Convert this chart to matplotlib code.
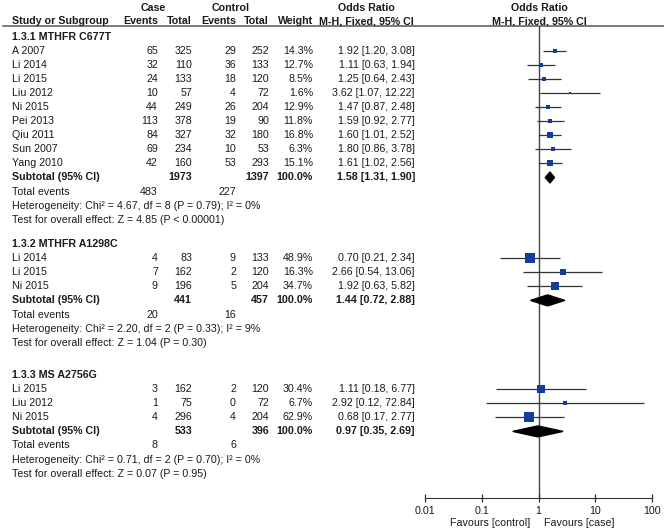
import numpy as np
import matplotlib
matplotlib.use("Agg")
import matplotlib.pyplot as plt

plt.rcParams["font.family"] = ["Liberation Sans", "DejaVu Sans"]

# Subgroup 1.3.1 MTHFR C677T
g1_title = "1.3.1 MTHFR C677T"
g1_names = ["A 2007", "Li 2014", "Li 2015", "Liu 2012", "Ni 2015", "Pei 2013", "Qiu 2011", "Sun 2007", "Yang 2010"]
g1_case_ev = [65, 32, 24, 10, 44, 113, 84, 69, 42]
g1_case_n = [325, 110, 133, 57, 249, 378, 327, 234, 160]
g1_ctrl_ev = [29, 36, 18, 4, 26, 19, 32, 10, 53]
g1_ctrl_n = [252, 133, 120, 72, 204, 90, 180, 53, 293]
g1_weight = [14.3, 12.7, 8.5, 1.6, 12.9, 11.8, 16.8, 6.3, 15.1]
g1_or = [1.92, 1.11, 1.25, 3.62, 1.47, 1.59, 1.60, 1.80, 1.61]
g1_lo = [1.20, 0.63, 0.64, 1.07, 0.87, 0.92, 1.01, 0.86, 1.02]
g1_hi = [3.08, 1.94, 2.43, 12.22, 2.48, 2.77, 2.52, 3.78, 2.56]
g1_sub = [1.58, 1.31, 1.90]
g1_sub_n = [1973, 1397]
g1_sub_ev = [483, 227]
g1_het = "Heterogeneity: Chi² = 4.67, df = 8 (P = 0.79); I² = 0%"
g1_test = "Test for overall effect: Z = 4.85 (P < 0.00001)"

# Subgroup 1.3.2 MTHFR A1298C
g2_title = "1.3.2 MTHFR A1298C"
g2_names = ["Li 2014", "Li 2015", "Ni 2015"]
g2_case_ev = [4, 7, 9]
g2_case_n = [83, 162, 196]
g2_ctrl_ev = [9, 2, 5]
g2_ctrl_n = [133, 120, 204]
g2_weight = [48.9, 16.3, 34.7]
g2_or = [0.70, 2.66, 1.92]
g2_lo = [0.21, 0.54, 0.63]
g2_hi = [2.34, 13.06, 5.82]
g2_sub = [1.44, 0.72, 2.88]
g2_sub_n = [441, 457]
g2_sub_ev = [20, 16]
g2_het = "Heterogeneity: Chi² = 2.20, df = 2 (P = 0.33); I² = 9%"
g2_test = "Test for overall effect: Z = 1.04 (P = 0.30)"

# Subgroup 1.3.3 MS A2756G
g3_title = "1.3.3 MS A2756G"
g3_names = ["Li 2015", "Liu 2012", "Ni 2015"]
g3_case_ev = [3, 1, 4]
g3_case_n = [162, 75, 296]
g3_ctrl_ev = [2, 0, 4]
g3_ctrl_n = [120, 72, 204]
g3_weight = [30.4, 6.7, 62.9]
g3_or = [1.11, 2.92, 0.68]
g3_lo = [0.18, 0.12, 0.17]
g3_hi = [6.77, 72.84, 2.77]
g3_sub = [0.97, 0.35, 2.69]
g3_sub_n = [533, 396]
g3_sub_ev = [8, 6]
g3_het = "Heterogeneity: Chi² = 0.71, df = 2 (P = 0.70); I² = 0%"
g3_test = "Test for overall effect: Z = 0.07 (P = 0.95)"

groups = [
    (g1_title, g1_names, g1_case_ev, g1_case_n, g1_ctrl_ev, g1_ctrl_n, g1_weight,
     g1_or, g1_lo, g1_hi, g1_sub, g1_sub_n, g1_sub_ev, g1_het, g1_test),
    (g2_title, g2_names, g2_case_ev, g2_case_n, g2_ctrl_ev, g2_ctrl_n, g2_weight,
     g2_or, g2_lo, g2_hi, g2_sub, g2_sub_n, g2_sub_ev, g2_het, g2_test),
    (g3_title, g3_names, g3_case_ev, g3_case_n, g3_ctrl_ev, g3_ctrl_n, g3_weight,
     g3_or, g3_lo, g3_hi, g3_sub, g3_sub_n, g3_sub_ev, g3_het, g3_test),
]

ticks = [0.01, 0.1, 1, 10, 100]
tick_labels = ["0.01", "0.1", "1", "10", "100"]

# layout (pixels)
W, H = 664, 532
group_top = [36.5, 244, 375]
step = 14.1
axis_y = 498
x_name, x_cev, x_cn, x_tev, x_tn, x_w, x_or = 12, 158, 192, 236, 269, 313, 415
fs = 7.7
txt = "#1a1a1a"

fig = plt.figure(figsize=(W / 100, H / 100), dpi=100)
ax = fig.add_axes([0, 0, 1, 1])
ax.set_xlim(0, W)
ax.set_ylim(H, 0)
ax.axis("off")

fax = fig.add_axes([425 / W, 0, (652.3 - 425) / W, 1])
fax.set_xscale("log")
fax.set_xlim(0.01, 100)
fax.set_ylim(H, 0)
fax.patch.set_alpha(0)

def t(x, y, s, ha="right", bold=False):
    ax.text(x, y, s, ha=ha, va="center", fontsize=fs, color=txt,
            fontweight="bold" if bold else "normal")

# headers
t(153.5, 8, "Case", ha="center", bold=True)
t(231, 8, "Control", ha="center", bold=True)
t(366, 8, "Odds Ratio", ha="center", bold=True)
t(539, 8, "Odds Ratio", ha="center", bold=True)
t(x_name, 21, "Study or Subgroup", ha="left", bold=True)
t(x_cev, 21, "Events", bold=True)
t(x_cn, 21, "Total", bold=True)
t(x_tev, 21, "Events", bold=True)
t(x_tn, 21, "Total", bold=True)
t(x_w, 21, "Weight", bold=True)
t(366, 21, "M-H, Fixed, 95% CI", ha="center", bold=True)
t(539, 21, "M-H, Fixed, 95% CI", ha="center", bold=True)
ax.plot([3, W], [25.5, 25.5], color="#555555", lw=1.1)

for gi, g in enumerate(groups):
    (title, names, cev, cn, tev, tn, wt, orr, lo, hi,
     sub, sub_n, sub_ev, het, test) = g
    y0 = group_top[gi]
    t(x_name, y0, title, ha="left", bold=True)
    for i in range(len(names)):
        y = y0 + step * (i + 1)
        t(x_name, y, names[i], ha="left")
        t(x_cev, y, str(cev[i]))
        t(x_cn, y, str(cn[i]))
        t(x_tev, y, str(tev[i]))
        t(x_tn, y, str(tn[i]))
        t(x_w, y, f"{wt[i]:.1f}%")
        t(x_or, y, f"{orr[i]:.2f} [{lo[i]:.2f}, {hi[i]:.2f}]")
        fax.hlines(y, lo[i], hi[i], color="#333333", lw=0.9, zorder=2)
        side = 1.3 * np.sqrt(wt[i]) * 0.72
        fax.scatter([orr[i]], [y], marker="s", s=side ** 2, color="#143c9c",
                    linewidths=0, zorder=3)
    n = len(names)
    y = y0 + step * (n + 1)
    t(x_name, y, "Subtotal (95% CI)", ha="left", bold=True)
    t(x_cn, y, str(sub_n[0]), bold=True)
    t(x_tn, y, str(sub_n[1]), bold=True)
    t(x_w, y, "100.0%", bold=True)
    t(x_or, y, f"{sub[0]:.2f} [{sub[1]:.2f}, {sub[2]:.2f}]", bold=True)
    h = 5.5
    fax.fill([sub[1], sub[0], sub[2], sub[0]], [y, y - h, y, y + h],
             color="black", zorder=3)
    y = y0 + step * (n + 2)
    t(x_name, y, "Total events", ha="left")
    t(x_cev, y, str(sub_ev[0]))
    t(x_tev, y, str(sub_ev[1]))
    t(x_name, y0 + step * (n + 3), het, ha="left")
    t(x_name, y0 + step * (n + 4), test, ha="left")

# null line and axis
fax.vlines(1, 25.5, axis_y, color="#444444", lw=1.0, zorder=1)
for s in ["top", "right", "left"]:
    fax.spines[s].set_visible(False)
fax.spines["bottom"].set_position(("data", axis_y))
fax.spines["bottom"].set_color("#333333")
fax.set_xticks(ticks)
fax.set_xticklabels(tick_labels)
fax.minorticks_off()
fax.tick_params(axis="x", direction="inout", length=6, width=0.9, color="#333333",
                labelsize=fs, labelcolor=txt, pad=3)
fax.set_yticks([])

t(530, 523, "Favours [control]")
t(544, 523, "Favours [case]", ha="left")

fig.savefig("out.png", dpi=100)
